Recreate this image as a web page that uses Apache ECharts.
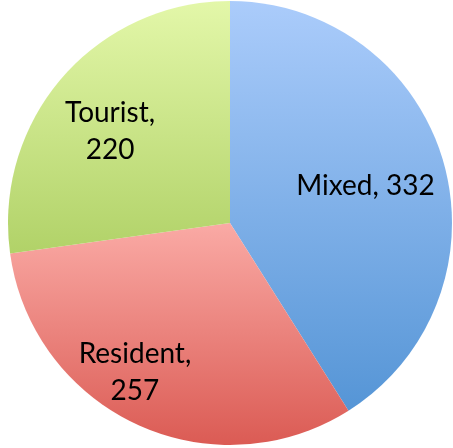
<!doctype html>
<html>
<head>
	<meta charset="utf-8">
	<title></title>
	<script src="https://cdn.jsdelivr.net/npm/echarts@6/dist/echarts.min.js"></script>
	<style>
		html, body { margin: 0; padding: 0; background: #fff; }
	</style>
</head>
<body>
	<div id="chart" style="width: 453px; height: 448px;"></div>
	<script>
		// data
		var names = ['Mixed', 'Resident', 'Tourist'];
		var values = [332, 257, 220];
		var labelText = ['Mixed, 332', 'Resident,\n257', 'Tourist,\n220'];

		// vertical gradient per slice, light at top, dark at bottom
		var topColors = ['#abccfb', '#faaaa5', '#e3f7a9'];
		var bottomColors = ['#5595d6', '#db5b54', '#b1d268'];
		// nudge labels to where Excel put them
		var labelShift = [[26, -5], [-47, 46], [-34, -17]];

		var chart = document.getElementById('chart');
		var myChart = echarts.init(chart);

		var data = names.map(function (n, i) {
			return {
				name: n,
				value: values[i],
				itemStyle: {
					color: new echarts.graphic.LinearGradient(0, 0, 0, 1, [
						{offset: 0, color: topColors[i]},
						{offset: 1, color: bottomColors[i]}
					])
				},
				label: {formatter: labelText[i]}
			};
		});

		var option = {
			animation: false,
			series: [{
				type: 'pie',
				center: [230, 223],
				radius: 222,
				startAngle: 90,
				clockwise: true,
				label: {
					position: 'inside',
					color: '#000',
					fontFamily: 'Lato',
					fontSize: 28,
					lineHeight: 37,
					align: 'center'
				},
				labelLine: {show: false},
				itemStyle: {borderWidth: 0},
				emphasis: {disabled: true},
				labelLayout: function (params) {
					var s = labelShift[params.dataIndex];
					return {dx: s[0], dy: s[1]};
				},
				data: data
			}]
		};

		myChart.setOption(option);
	</script>
</body>
</html>
